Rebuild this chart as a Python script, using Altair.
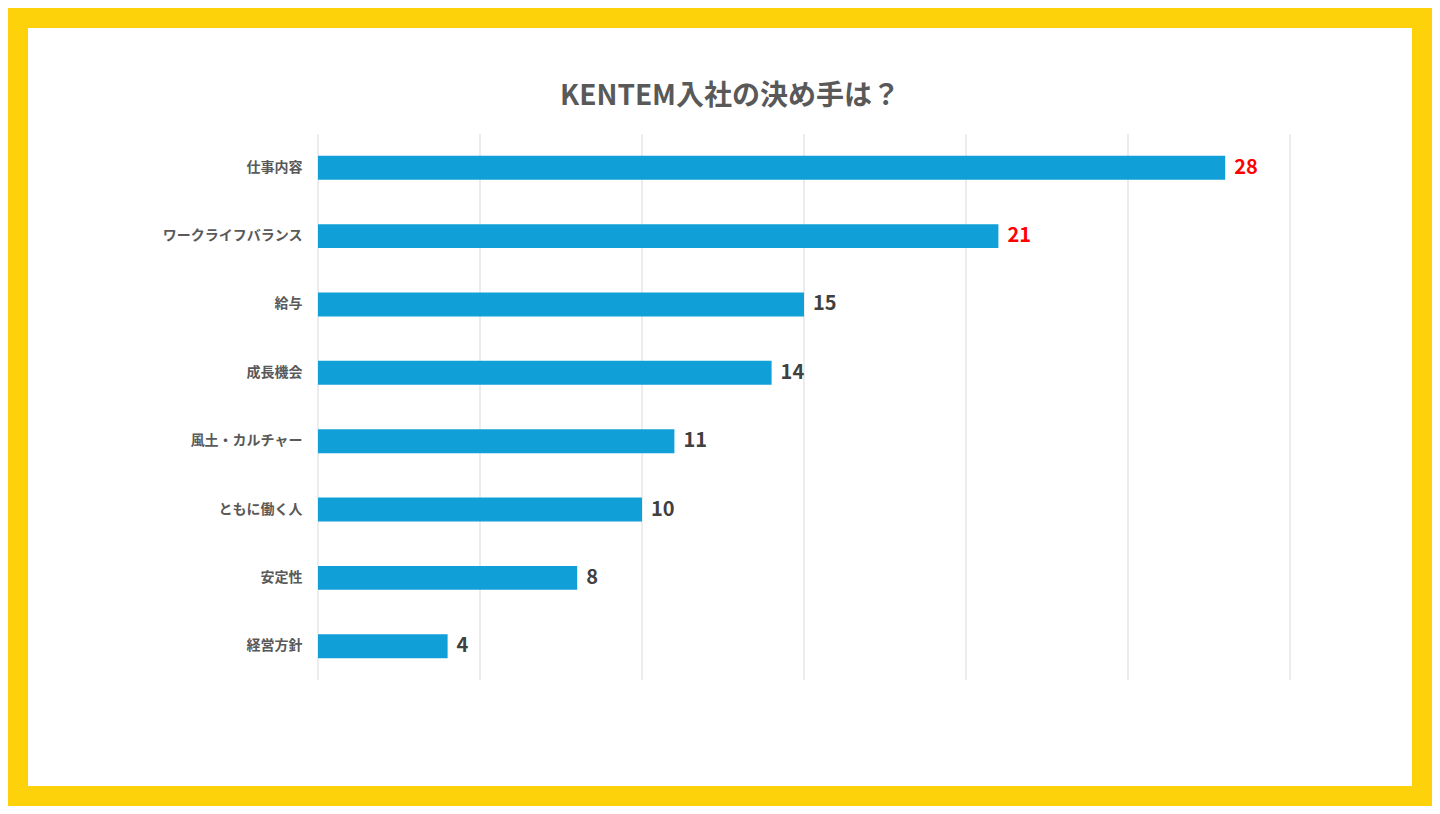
import altair as alt
import pandas as pd

items = ['仕事内容', 'ワークライフバランス', '給与', '成長機会', '風土・カルチャー', 'ともに働く人', '安定性', '経営方針']
counts = [28, 21, 15, 14, 11, 10, 8, 4]
label_colors = ['#FF0000', '#FF0000', '#404040', '#404040', '#404040', '#404040', '#404040', '#404040']

df = pd.DataFrame({'item': items, 'count': counts, 'lc': label_colors})
font = 'Noto Sans CJK JP'

frame = alt.Chart(pd.DataFrame({'a': [0]})).mark_rect(color='white').encode(
    x=alt.value(-290), x2=alt.value(1094), y=alt.value(-106), y2=alt.value(652)
)

base = alt.Chart(df).encode(
    y=alt.Y('item:N', sort=items, title=None,
            scale=alt.Scale(paddingInner=0.65, paddingOuter=0.32),
            axis=alt.Axis(ticks=False, domain=False, labelFontSize=14, labelFontWeight='bold',
                          labelColor='#595959', labelPadding=16, labelFont=font, zindex=1))
)

bars = base.mark_bar(color='#109FD7').encode(
    x=alt.X('count:Q', title='回答人数', scale=alt.Scale(domain=[0, 30]),
            axis=alt.Axis(values=[0, 5, 10, 15, 20, 25, 30], ticks=False, domain=False,
                          gridColor='#D9D9D9', labelColor='#595959', labelFontSize=12,
                          labelPadding=14, titleFontSize=15, titleColor='#595959',
                          titleFontWeight='bold', titlePadding=10, labelFont=font,
                          titleFont=font, zindex=0))
)

grid = alt.Chart(pd.DataFrame({'v': [0, 5, 10, 15, 20, 25, 30]})).mark_rule(
    color='#D9D9D9', strokeWidth=1
).encode(x='v:Q')

labels = base.mark_text(align='left', dx=9, fontSize=20, fontWeight='bold', font=font).encode(
    x='count:Q', text='count:Q', color=alt.Color('lc:N', scale=None)
)

title = alt.Chart(pd.DataFrame({'t': ['KENTEM入社の決め手は？']})).mark_text(
    fontSize=28, fontWeight='bold', color='#595959', font=font, align='center', baseline='middle'
).encode(text='t:N', x=alt.value(412), y=alt.value(-37))

chart = alt.layer(frame, grid, bars, labels, title).properties(
    width=972, height=546,
    autosize=alt.AutoSizeParams(type='none'),
    padding={'left': 310, 'top': 126, 'right': 142, 'bottom': 126},
    background='#FDD20A'
).configure_view(stroke=None).configure_axisX(grid=False)

chart.save("out.html", embed_options={"renderer": "svg", "actions": False})
